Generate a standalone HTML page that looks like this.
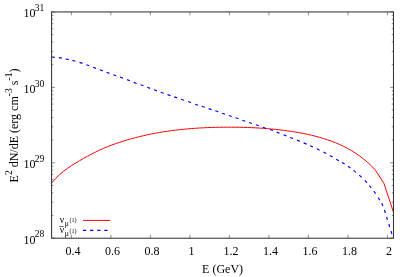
<!DOCTYPE html>
<html><head><meta charset="utf-8"><title>plot</title>
<style>
html,body{margin:0;padding:0;background:#fff;}
body{width:415px;height:277px;overflow:hidden;}
svg{display:block;will-change:transform;}
text{font-family:"Liberation Serif",serif;font-size:12px;fill:#000;}
</style></head><body>
<svg width="415" height="277" viewBox="0 0 415 277">
<rect width="415" height="277" fill="#fff"/>
<path d="M71.36 238.20V234.80M71.36 11.95V15.35M110.87 238.20V234.80M110.87 11.95V15.35M150.38 238.20V234.80M150.38 11.95V15.35M189.89 238.20V234.80M189.89 11.95V15.35M229.40 238.20V234.80M229.40 11.95V15.35M268.91 238.20V234.80M268.91 11.95V15.35M308.43 238.20V234.80M308.43 11.95V15.35M347.94 238.20V234.80M347.94 11.95V15.35M387.45 238.20V234.80M387.45 11.95V15.35M51.60 238.20H55.00M393.46 238.20H390.06M51.60 215.50H53.30M393.46 215.50H391.76M51.60 202.22H53.30M393.46 202.22H391.76M51.60 192.79H53.30M393.46 192.79H391.76M51.60 185.49H53.30M393.46 185.49H391.76M51.60 179.51H53.30M393.46 179.51H391.76M51.60 174.47H53.30M393.46 174.47H391.76M51.60 170.09H53.30M393.46 170.09H391.76M51.60 166.23H53.30M393.46 166.23H391.76M51.60 162.78H55.00M393.46 162.78H390.06M51.60 140.08H53.30M393.46 140.08H391.76M51.60 126.80H53.30M393.46 126.80H391.76M51.60 117.38H53.30M393.46 117.38H391.76M51.60 110.07H53.30M393.46 110.07H391.76M51.60 104.10H53.30M393.46 104.10H391.76M51.60 99.05H53.30M393.46 99.05H391.76M51.60 94.68H53.30M393.46 94.68H391.76M51.60 90.82H53.30M393.46 90.82H391.76M51.60 87.37H55.00M393.46 87.37H390.06M51.60 64.66H53.30M393.46 64.66H391.76M51.60 51.38H53.30M393.46 51.38H391.76M51.60 41.96H53.30M393.46 41.96H391.76M51.60 34.65H53.30M393.46 34.65H391.76M51.60 28.68H53.30M393.46 28.68H391.76M51.60 23.63H53.30M393.46 23.63H391.76M51.60 19.26H53.30M393.46 19.26H391.76M51.60 15.40H53.30M393.46 15.40H391.76M51.60 11.95H55.00M393.46 11.95H390.06" stroke="#444" stroke-width="0.6" fill="none"/>
<path d="M51.6 183.09 L55.6 178.56 L59.6 174.64 L63.6 171.24 L67.6 168.25 L71.6 165.57 L75.6 163.08 L79.6 160.70 L83.6 158.39 L87.6 156.16 L91.6 154.02 L95.6 152.00 L99.6 150.09 L103.6 148.31 L107.6 146.65 L111.6 145.11 L115.6 143.66 L119.6 142.31 L123.6 141.03 L127.6 139.83 L131.6 138.69 L135.6 137.61 L139.6 136.60 L143.6 135.66 L147.6 134.77 L151.6 133.94 L155.6 133.17 L159.6 132.46 L163.6 131.80 L167.6 131.19 L171.6 130.63 L175.6 130.13 L179.6 129.66 L183.6 129.25 L187.6 128.88 L191.6 128.55 L195.6 128.26 L199.6 128.00 L203.6 127.79 L207.6 127.61 L211.6 127.46 L215.6 127.35 L219.6 127.27 L223.6 127.21 L227.6 127.19 L231.6 127.19 L235.6 127.22 L239.6 127.28 L243.6 127.37 L247.6 127.49 L251.6 127.65 L255.6 127.85 L259.6 128.08 L263.6 128.35 L267.6 128.66 L271.6 129.02 L275.6 129.41 L279.6 129.85 L283.6 130.33 L287.6 130.86 L291.6 131.44 L295.6 132.07 L299.6 132.77 L303.6 133.53 L307.6 134.37 L311.6 135.29 L315.6 136.29 L319.6 137.37 L323.6 138.55 L327.6 139.84 L331.6 141.25 L335.6 142.79 L339.6 144.49 L343.6 146.36 L347.6 148.43 L351.6 150.70 L355.6 153.20 L359.6 155.95 L363.6 158.99 L367.6 162.35 L371.6 166.08 L375.4 170.10 L384.0 183.50 L393.4 212.00" stroke="#ff0000" stroke-width="1.0" fill="none" stroke-linejoin="round"/>
<path d="M51.70 57.00L54.78 57.32 M58.87 57.67L61.93 58.13 M65.68 58.97L68.72 59.63 M72.40 60.41L75.40 61.19 M79.53 62.42L82.47 63.38 M86.34 64.77L89.26 65.83 M93.05 67.26L95.95 68.34 M99.85 69.76L102.75 70.84 M106.55 72.26L109.45 73.34 M113.34 74.78L116.26 75.82 M120.04 77.08L122.96 78.12 M127.05 79.64L129.95 80.76 M133.75 82.35L136.65 83.45 M140.54 84.77L143.46 85.83 M147.25 87.26L150.15 88.34 M154.05 89.76L156.95 90.84 M160.74 92.28L163.66 93.32 M167.53 94.60L170.47 95.60 M174.23 96.90L177.17 97.90 M181.03 99.21L183.97 100.19 M188.14 101.48L191.06 102.52 M195.14 104.19L198.06 105.21 M201.83 106.32L204.77 107.28 M208.63 108.62L211.57 109.58 M215.33 110.70L218.27 111.70 M222.14 113.18L225.06 114.22 M228.83 115.50L231.77 116.50 M235.54 117.79L238.46 118.81 M242.34 120.19L245.26 121.21 M249.03 122.50L251.97 123.50 M255.83 124.80L258.77 125.80 M262.83 127.21L265.77 128.19 M269.94 129.47L272.86 130.53 M276.66 132.13L279.54 133.27 M283.46 134.73L286.34 135.87 M290.16 137.42L293.04 138.58 M296.96 140.12L299.84 141.28 M303.68 142.88L306.52 144.12 M310.09 145.75L312.91 147.05 M316.80 148.83L319.60 150.17 M323.43 152.08L326.17 153.52 M329.85 155.54L332.55 157.06 M336.15 159.13L338.85 160.67 M341.98 162.39L344.62 164.01 M347.94 166.20L350.46 168.00 M353.60 170.42L356.00 172.38 M359.25 175.16L361.55 177.24 M364.84 180.27L366.96 182.53 M369.33 185.49L371.27 187.91 M373.80 191.04L375.60 193.56 M378.19 197.58L379.81 200.22 M381.64 203.20L382.96 206.00 M384.40 210.03L385.40 212.97 M386.54 216.82L387.46 219.78 M388.84 224.02L389.76 226.98 M390.95 231.02L391.85 233.98" stroke="#0000ff" stroke-width="1.15" fill="none"/>
<path d="M83 220.4H110.3" stroke="#ff0000" stroke-width="1.0"/>
<path d="M83 230.3H110.3" stroke="#0000ff" stroke-width="1.15" stroke-dasharray="3.3 3.8"/>
<path d="M59.3 226.5H63.7" stroke="#000" stroke-width="0.6"/>
<rect x="51.6" y="11.95" width="341.86" height="226.25" fill="none" stroke="#2a2a2a" stroke-width="1"/>
<text x="72.96" y="254.7" text-anchor="middle">0.4</text>
<text x="112.47" y="254.7" text-anchor="middle">0.6</text>
<text x="151.98" y="254.7" text-anchor="middle">0.8</text>
<text x="191.49" y="254.7" text-anchor="middle">1</text>
<text x="231.00" y="254.7" text-anchor="middle">1.2</text>
<text x="270.51" y="254.7" text-anchor="middle">1.4</text>
<text x="310.03" y="254.7" text-anchor="middle">1.6</text>
<text x="349.54" y="254.7" text-anchor="middle">1.8</text>
<text x="389.05" y="254.7" text-anchor="middle">2</text>
<text x="43.5" y="243.70" text-anchor="end"><tspan dx="0.8">10</tspan><tspan font-size="9.6" dy="-6.3" dx="-0.8">28</tspan></text>
<text x="43.5" y="168.28" text-anchor="end"><tspan dx="0.8">10</tspan><tspan font-size="9.6" dy="-6.3" dx="-0.8">29</tspan></text>
<text x="43.5" y="92.87" text-anchor="end"><tspan dx="0.8">10</tspan><tspan font-size="9.6" dy="-6.3" dx="-0.8">30</tspan></text>
<text x="43.5" y="17.45" text-anchor="end"><tspan dx="0.8">10</tspan><tspan font-size="9.6" dy="-6.3" dx="-0.8">31</tspan></text>
<text x="222.6" y="272.5" text-anchor="middle">E (GeV)</text>
<text transform="translate(18.4 125.5) rotate(-90)" text-anchor="middle">E<tspan font-size="9.6" dy="-6">2</tspan><tspan dy="6"> dN/dE (erg cm</tspan><tspan font-size="9.6" dy="-6">-3</tspan><tspan dy="6"> s</tspan><tspan font-size="9.6" dy="-6">-1</tspan><tspan dy="6">)</tspan></text>
<text x="59.8" y="222.60" style="font-size:9.6px">ν</text><text x="64.7" y="225.70" style="font-size:7.7px">μ</text><text x="69.5" y="222.00" style="font-size:6.1px">(1)</text>
<text x="59.8" y="233.35" style="font-size:9.6px">ν</text><text x="64.7" y="236.45" style="font-size:7.7px">μ</text><text x="69.5" y="232.75" style="font-size:6.1px">(1)</text>
</svg>
</body></html>
